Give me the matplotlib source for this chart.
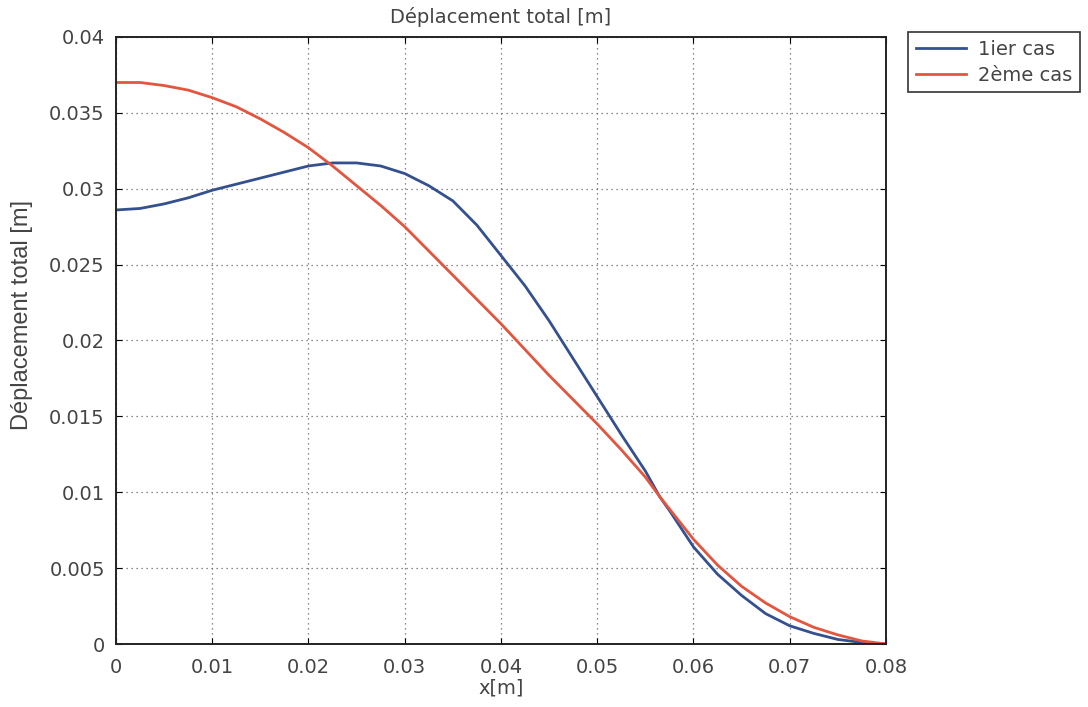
import matplotlib
matplotlib.use("Agg")
import matplotlib.pyplot as plt
from matplotlib.ticker import FormatStrFormatter, MultipleLocator
from matplotlib import font_manager

x = [0, 0.0025, 0.005, 0.0075, 0.01, 0.0125, 0.015, 0.0175, 0.02, 0.0225, 0.025, 0.0275,
     0.03, 0.0325, 0.035, 0.0375, 0.04, 0.0425, 0.045, 0.0475, 0.05, 0.0525, 0.055,
     0.0565, 0.0575, 0.06, 0.0625, 0.065, 0.0675, 0.07, 0.0725, 0.075, 0.0775, 0.08]
cas1 = [0.0286, 0.0287, 0.0290, 0.0294, 0.0299, 0.0303, 0.0307, 0.0311, 0.0315, 0.0317, 0.0317, 0.0315,
        0.0310, 0.0302, 0.0292, 0.0276, 0.0256, 0.0236, 0.0213, 0.0188, 0.0163, 0.0138, 0.0114,
        0.0097, 0.0088, 0.0064, 0.0046, 0.0032, 0.0020, 0.0012, 0.0007, 0.0003, 0.0001, 0.0000]
cas2 = [0.0370, 0.0370, 0.0368, 0.0365, 0.0360, 0.0354, 0.0346, 0.0337, 0.0327, 0.0315, 0.0302, 0.0289,
        0.0275, 0.0259, 0.0243, 0.0227, 0.0211, 0.0194, 0.0177, 0.0161, 0.0145, 0.0128, 0.0110,
        0.0097, 0.0089, 0.0069, 0.0052, 0.0038, 0.0027, 0.0018, 0.0011, 0.0006, 0.0002, 0.0000]

names = {f.name for f in font_manager.fontManager.ttflist}
narrow = "Liberation Sans Narrow" if "Liberation Sans Narrow" in names else "Liberation Sans"

fig = plt.figure(figsize=(10.88, 7.07), dpi=100)
ax = fig.add_axes([0.1066, 0.0891, 0.7077, 0.8586])

ax.plot(x, cas1, color="#34508f", lw=2, label="1ier cas")
ax.plot(x, cas2, color="#e3553e", lw=2, label="2ème cas")

ax.set_xlim(0, 0.08)
ax.set_ylim(0, 0.04)
ax.xaxis.set_major_locator(MultipleLocator(0.01))
ax.yaxis.set_major_locator(MultipleLocator(0.005))
ax.xaxis.set_major_formatter(FormatStrFormatter("%g"))
ax.yaxis.set_major_formatter(FormatStrFormatter("%g"))
ax.tick_params(direction="in", top=True, right=True, length=4, labelsize=14,
               labelcolor="#444444")
ax.tick_params(axis="x", pad=10)
ax.tick_params(axis="y", pad=8)
ax.grid(True, linestyle=(0, (1, 3)), color="#666666", lw=0.9)
for s in ax.spines.values():
    s.set_linewidth(1.4)
    s.set_color("#222222")

ax.set_title("Déplacement total [m]", fontsize=14, color="#444444", pad=10)
ax.set_xlabel("x[m]", fontsize=14, color="#444444", labelpad=1)
ax.set_ylabel("Déplacement total [m]", fontsize=17, color="#444444", family=narrow)
ax.yaxis.set_label_coords(-0.108, 0.542)

leg = ax.legend(loc="upper left", bbox_to_anchor=(0.8346, 0.9547),
                bbox_transform=fig.transFigure, borderaxespad=0, fancybox=False,
                framealpha=1, edgecolor="#333333", fontsize=14, handlelength=2.6,
                borderpad=0.4, labelspacing=0.35, handletextpad=0.6)
leg.get_frame().set_linewidth(1.2)
for t in leg.get_texts():
    t.set_color("#444444")

fig.savefig("out.png", dpi=100)
